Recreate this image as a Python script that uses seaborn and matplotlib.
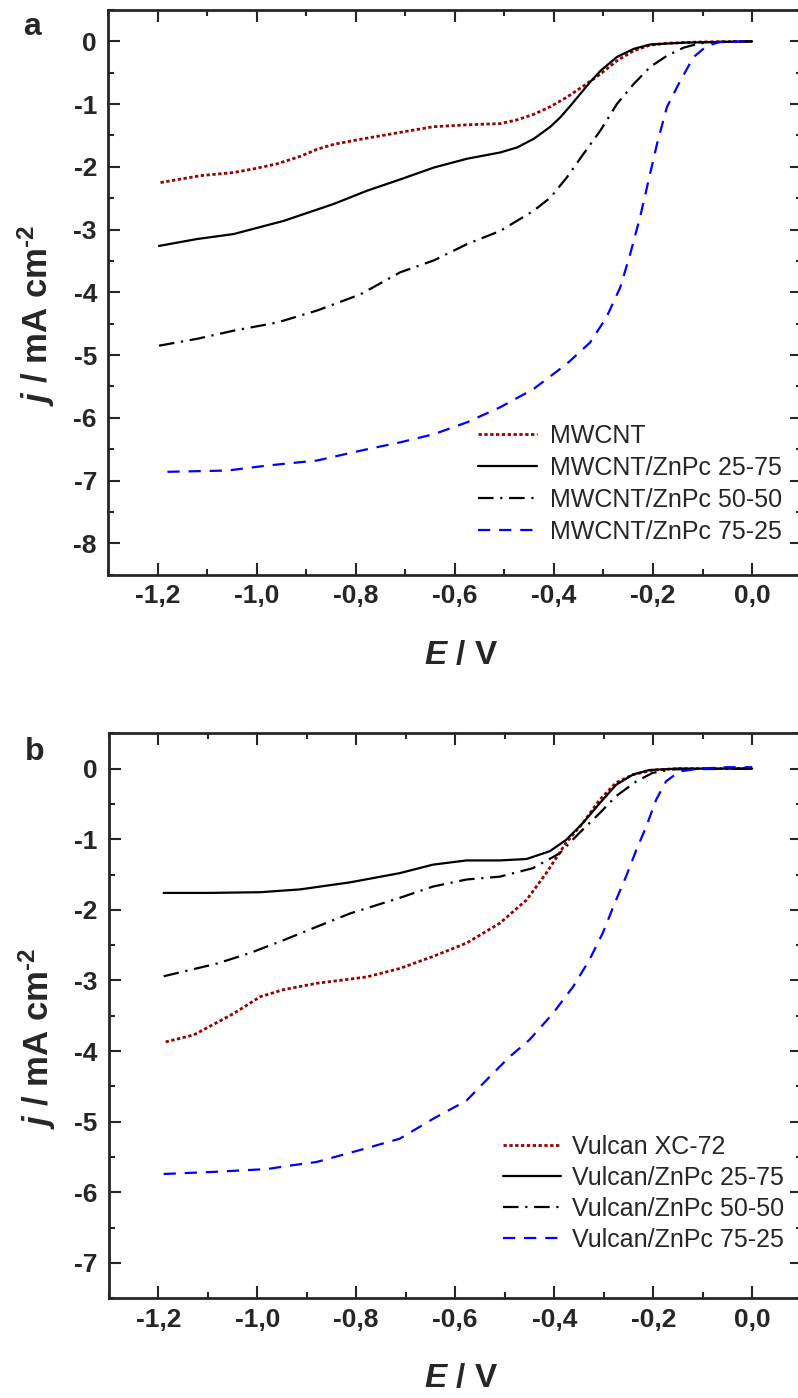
import seaborn as sns
import matplotlib.pyplot as plt
from matplotlib.ticker import MultipleLocator, FuncFormatter

# --- panel a: MWCNT based electrodes ---
E_a_mwcnt = [-1.194, -1.113, -1.046, -1.005, -0.958, -0.911, -0.878, -0.844, -0.79, -0.71, -0.643, -0.575,
             -0.508, -0.474, -0.44, -0.407, -0.374, -0.34, -0.306, -0.273, -0.239, -0.206, -0.172, -0.105, 0.0]
j_a_mwcnt = [-2.25, -2.14, -2.09, -2.03, -1.95, -1.83, -1.72, -1.64, -1.56, -1.45, -1.36, -1.33,
             -1.31, -1.25, -1.16, -1.04, -0.89, -0.71, -0.52, -0.31, -0.15, -0.06, -0.03, -0.01, 0.0]

E_a_2575 = [-1.197, -1.12, -1.046, -0.945, -0.844, -0.777, -0.71, -0.642, -0.575, -0.508, -0.474, -0.44,
            -0.407, -0.387, -0.367, -0.347, -0.327, -0.306, -0.273, -0.239, -0.206, -0.138, 0.0]
j_a_2575 = [-3.26, -3.15, -3.07, -2.86, -2.59, -2.38, -2.2, -2.01, -1.87, -1.77, -1.69, -1.55,
            -1.36, -1.21, -1.03, -0.84, -0.65, -0.47, -0.25, -0.12, -0.05, -0.02, 0.0]

E_a_5050 = [-1.197, -1.12, -1.046, -0.958, -0.878, -0.79, -0.71, -0.642, -0.575, -0.508, -0.441, -0.407,
            -0.374, -0.34, -0.306, -0.273, -0.239, -0.206, -0.172, -0.138, -0.105, -0.07, 0.0]
j_a_5050 = [-4.85, -4.74, -4.61, -4.48, -4.29, -4.03, -3.68, -3.49, -3.23, -3.02, -2.70, -2.49,
            -2.17, -1.79, -1.42, -1.0, -0.68, -0.41, -0.23, -0.10, -0.03, -0.01, 0.0]

E_a_7525 = [-1.18, -1.059, -0.978, -0.878, -0.777, -0.71, -0.642, -0.575, -0.508, -0.441, -0.374, -0.327,
            -0.294, -0.266, -0.246, -0.226, -0.209, -0.192, -0.172, -0.145, -0.118, -0.091, -0.065, 0.0]
j_a_7525 = [-6.86, -6.84, -6.76, -6.68, -6.50, -6.39, -6.26, -6.07, -5.83, -5.54, -5.14, -4.80,
            -4.40, -3.92, -3.39, -2.80, -2.22, -1.64, -1.05, -0.63, -0.25, -0.07, -0.01, 0.0]

labels_a = ['MWCNT', 'MWCNT/ZnPc 25-75', 'MWCNT/ZnPc 50-50', 'MWCNT/ZnPc 75-25']

# --- panel b: Vulcan based electrodes ---
E_b_xc72 = [-1.185, -1.128, -1.048, -1.021, -0.994, -0.947, -0.88, -0.779, -0.712, -0.645, -0.577, -0.51,
            -0.456, -0.416, -0.376, -0.342, -0.308, -0.275, -0.241, -0.20, -0.15, 0.0]
j_b_xc72 = [-3.87, -3.77, -3.47, -3.35, -3.23, -3.13, -3.04, -2.95, -2.83, -2.66, -2.47, -2.19,
            -1.86, -1.48, -1.05, -0.77, -0.44, -0.20, -0.085, -0.02, 0.0, 0.0]

E_b_2575 = [-1.189, -1.1, -0.994, -0.913, -0.812, -0.712, -0.645, -0.577, -0.51, -0.456, -0.409, -0.376,
            -0.342, -0.308, -0.275, -0.241, -0.208, -0.15, 0.0]
j_b_2575 = [-1.76, -1.76, -1.75, -1.71, -1.61, -1.48, -1.36, -1.30, -1.30, -1.28, -1.17, -1.01,
            -0.77, -0.49, -0.23, -0.085, -0.02, 0.0, 0.0]

E_b_5050 = [-1.189, -1.081, -1.014, -0.947, -0.88, -0.812, -0.712, -0.645, -0.577, -0.51, -0.443, -0.389,
            -0.349, -0.308, -0.275, -0.234, -0.201, -0.16, 0.0]
j_b_5050 = [-2.94, -2.76, -2.61, -2.43, -2.24, -2.05, -1.83, -1.67, -1.57, -1.53, -1.41, -1.20,
            -0.91, -0.63, -0.39, -0.18, -0.06, -0.01, 0.0]

E_b_7525 = [-1.189, -1.088, -0.98, -0.933, -0.88, -0.792, -0.712, -0.645, -0.577, -0.53, -0.49, -0.45,
            -0.403, -0.362, -0.329, -0.302, -0.278, -0.255, -0.234, -0.214, -0.194, -0.174, -0.147,
            -0.107, -0.05, 0.0]
j_b_7525 = [-5.74, -5.71, -5.67, -5.62, -5.57, -5.40, -5.24, -4.96, -4.70, -4.36, -4.08, -3.84,
            -3.47, -3.09, -2.71, -2.33, -1.91, -1.53, -1.15, -0.82, -0.44, -0.18, -0.04,
            0.0, 0.02, 0.02]

labels_b = ['Vulcan XC-72', 'Vulcan/ZnPc 25-75', 'Vulcan/ZnPc 50-50', 'Vulcan/ZnPc 75-25']

# line styles: dotted red, solid black, dash-dot black, dashed blue
colors = ['#990000', 'black', 'black', '#0000ff']
styles = [(0, (1.2, 0.9)), '-', (0, (7, 3, 1, 3)), (0, (5.5, 4))]

sns.set_style('ticks')
plt.rcParams['font.family'] = ['Liberation Sans', 'DejaVu Sans']
plt.rcParams['font.weight'] = 'bold'
plt.rcParams['axes.labelweight'] = 'bold'
plt.rcParams['axes.unicode_minus'] = False
plt.rcParams['mathtext.fontset'] = 'custom'
plt.rcParams['mathtext.rm'] = 'Liberation Sans:bold'
plt.rcParams['mathtext.it'] = 'Liberation Sans:italic:bold'
plt.rcParams['mathtext.bf'] = 'Liberation Sans:bold'

fig = plt.figure(figsize=(7.98, 13.98), dpi=100)
W, H = 798, 1398
ax_a = fig.add_axes([108 / W, 1 - 574.7 / H, 693.6 / W, 564.7 / H])
ax_b = fig.add_axes([108.7 / W, 1 - 1298.3 / H, 693 / W, 565 / H])


def draw_panel(ax, series, labels, ymin):
    for (E, j), lab, c, ls in zip(series, labels, colors, styles):
        lw = 2.0 if c == '#990000' else 1.6
        sns.lineplot(x=E, y=j, ax=ax, color=c, linestyle=ls, linewidth=lw, label=lab)

    ax.set_xlim(-1.3, 0.1)
    ax.set_ylim(ymin, 0.5)
    ax.xaxis.set_major_locator(MultipleLocator(0.2))
    ax.xaxis.set_minor_locator(MultipleLocator(0.1))
    ax.yaxis.set_major_locator(MultipleLocator(1))
    ax.yaxis.set_minor_locator(MultipleLocator(0.5))
    ax.xaxis.set_major_formatter(FuncFormatter(lambda v, p: f"{round(v, 1) + 0.0:.1f}".replace('.', ',')))
    ax.yaxis.set_major_formatter(FuncFormatter(lambda v, p: f"{int(round(v))}"))

    ax.tick_params(which='both', direction='in', top=True, right=True, width=1.5, labelsize=19)
    ax.tick_params(which='major', length=8.5)
    ax.tick_params(which='minor', length=4.5)
    ax.tick_params(axis='y', pad=8)
    ax.tick_params(axis='x', pad=7)
    for sp in ax.spines.values():
        sp.set_linewidth(2)

    ax.set_xlabel(r"$\it{E}$ / V", fontsize=24, fontweight='bold')
    ax.set_ylabel(r"$\it{j}$ / mA cm$^{\text{-2}}$", fontsize=25, fontweight='bold')
    ax.xaxis.set_label_coords(0.509, -0.115)
    ax.yaxis.set_label_coords(-0.0735, 0.46)


draw_panel(ax_a, [(E_a_mwcnt, j_a_mwcnt), (E_a_2575, j_a_2575), (E_a_5050, j_a_5050), (E_a_7525, j_a_7525)],
           labels_a, -8.5)
draw_panel(ax_b, [(E_b_xc72, j_b_xc72), (E_b_2575, j_b_2575), (E_b_5050, j_b_5050), (E_b_7525, j_b_7525)],
           labels_b, -7.5)

ax_a.legend(loc='upper left', bbox_to_anchor=(0.5335, 0.267), frameon=False, borderpad=0, borderaxespad=0,
            handlelength=2.36, handletextpad=0.5, labelspacing=0.32, prop={'size': 18, 'weight': 'normal'})
ax_b.legend(loc='upper left', bbox_to_anchor=(0.569, 0.289), frameon=False, borderpad=0, borderaxespad=0,
            handlelength=2.3, handletextpad=0.45, labelspacing=0.28, prop={'size': 18, 'weight': 'normal'})

fig.text(23 / W, 1 - 35 / H, 'a', fontsize=23, fontweight='bold', ha='left', va='baseline')
fig.text(25 / W, 1 - 760 / H, 'b', fontsize=23, fontweight='bold', ha='left', va='baseline')

fig.savefig('out.png', dpi=100)
